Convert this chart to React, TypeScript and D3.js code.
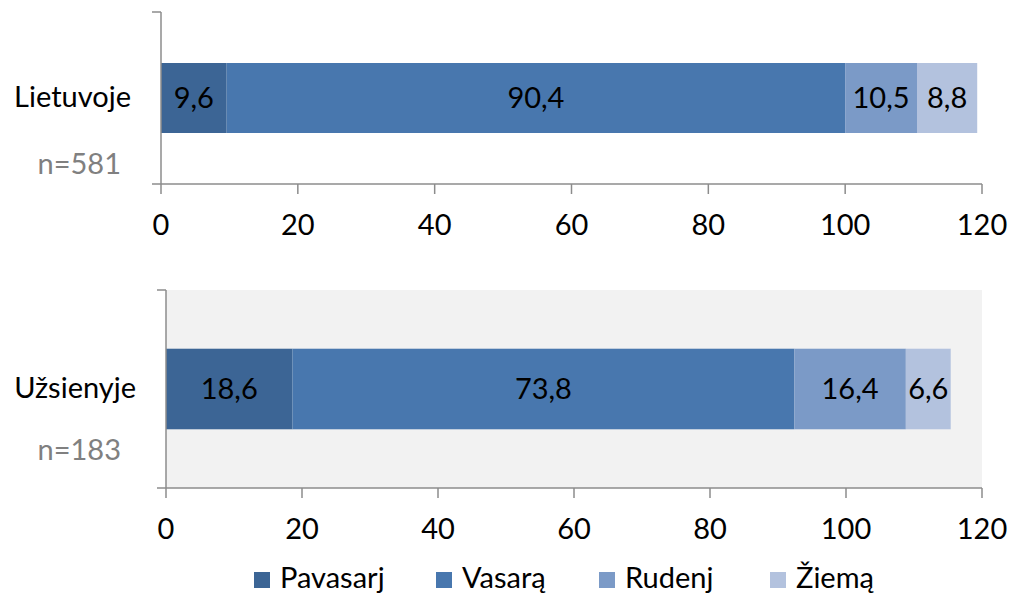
import React from "react";
import * as d3 from "d3";

// ---- data ----
const categories = ["Lietuvoje", "Užsienyje"];
const sampleSizes = ["n=581", "n=183"];
const seriesNames = ["Pavasarj", "Vasarą", "Rudenj", "Žiemą"];
const pavasarj = [9.6, 18.6];
const vasara = [90.4, 73.8];
const rudenj = [10.5, 16.4];
const ziema = [8.8, 6.6];
const xTicks = [0, 20, 40, 60, 80, 100, 120];

const colors = ["#3c6595", "#4877ae", "#7b9ac7", "#b3c2de"];
const axisColor = "#8c8c8c";
const FONT = "Lato, 'Open Sans', sans-serif";
const FS = 29;

type Panel = {
  left: number;
  right: number;
  top: number;
  bottom: number;
  bg: string | null;
  labelEnd: number;
  labelY: number;
  nEnd: number;
  nY: number;
};

const panels: Panel[] = [
  { left: 161, right: 982, top: 12, bottom: 184, bg: null, labelEnd: 131, labelY: 107, nEnd: 121, nY: 174 },
  { left: 166, right: 982, top: 290, bottom: 488, bg: "#f2f2f2", labelEnd: 136, labelY: 398, nEnd: 121, nY: 460 },
];

const fmt = (v: number) => v.toFixed(1).replace(".", ",");

export default function App() {
  const rows = categories.map((c, i) => ({
    cat: c,
    Pavasarj: pavasarj[i],
    "Vasarą": vasara[i],
    Rudenj: rudenj[i],
    "Žiemą": ziema[i],
  }));
  const stacked = d3.stack<any>().keys(seriesNames)(rows);

  const legendX = [254, 436, 599, 770];

  return (
    <svg
      width={1010}
      height={594}
      style={{ position: "absolute", left: 0, top: 0, background: "#ffffff" }}
      fontFamily={FONT}
    >
      {panels.map((p, i) => {
        const x = d3.scaleLinear().domain([0, 120]).range([p.left, p.right]);
        const y = d3
          .scaleBand<string>()
          .domain([categories[i]])
          .range([p.top, p.bottom])
          .paddingInner(0.4215)
          .paddingOuter(0.4215);
        const by = y(categories[i])!;
        const bh = y.bandwidth();
        return (
          <g key={i}>
            {p.bg && (
              <rect x={p.left} y={p.top} width={p.right - p.left} height={p.bottom - p.top} fill={p.bg} />
            )}
            {stacked.map((s, k) => {
              const d = s[i];
              const x0 = x(d[0]);
              const x1 = x(d[1]);
              return (
                <g key={k}>
                  <rect x={x0} y={by} width={x1 - x0} height={bh} fill={colors[k]} />
                  <text
                    x={(x0 + x1) / 2}
                    y={by + bh / 2 + 10}
                    textAnchor="middle"
                    fontSize={FS}
                    fill="#000"
                  >
                    {fmt(d[1] - d[0])}
                  </text>
                </g>
              );
            })}
            {/* y axis */}
            <line x1={p.left} x2={p.left} y1={p.top} y2={p.bottom} stroke={axisColor} strokeWidth={1.5} />
            <line x1={p.left - 9} x2={p.left} y1={p.top} y2={p.top} stroke={axisColor} strokeWidth={1.5} />
            {/* x axis */}
            <line x1={p.left - 9} x2={p.right} y1={p.bottom} y2={p.bottom} stroke={axisColor} strokeWidth={1.5} />
            {xTicks.map((t) => (
              <g key={t}>
                <line x1={x(t)} x2={x(t)} y1={p.bottom} y2={p.bottom + 10} stroke={axisColor} strokeWidth={1.5} />
                <text x={x(t)} y={p.bottom + 51} textAnchor="middle" fontSize={FS} fill="#000">
                  {t}
                </text>
              </g>
            ))}
            <text x={p.labelEnd} y={p.labelY} textAnchor="end" fontSize={FS} fill="#000">
              {categories[i]}
            </text>
            <text x={p.nEnd} y={p.nY} textAnchor="end" fontSize={FS} fill="#808080">
              {sampleSizes[i]}
            </text>
          </g>
        );
      })}
      {seriesNames.map((s, k) => (
        <g key={s}>
          <rect x={legendX[k]} y={572} width={16} height={16} fill={colors[k]} />
          <text x={legendX[k] + 26} y={588} fontSize={FS} fill="#000">
            {s}
          </text>
        </g>
      ))}
    </svg>
  );
}
